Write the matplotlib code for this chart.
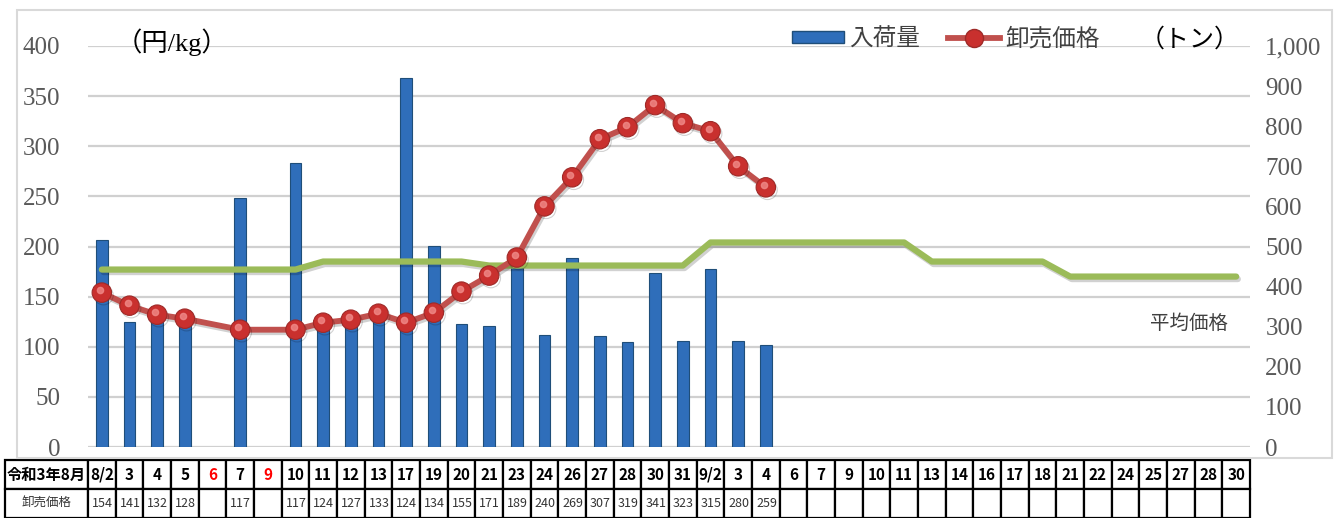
"""
Wholesale price / arrival volume chart (Aug - Sep, Reiwa 3)
Bars = arrivals (tons, right axis), red line = wholesale price (yen/kg, left axis),
green line = average price. Table of dates/prices below the chart.
"""

import numpy as np
import matplotlib.pyplot as plt
import matplotlib.patheffects as pe
from matplotlib.lines import Line2D
from matplotlib.patches import Patch, Rectangle

# ============================================================================
# DATA
# ============================================================================

DATES = ['8/2', '3', '4', '5', '6', '7', '9', '10', '11', '12', '13', '17', '19',
         '20', '21', '23', '24', '26', '27', '28', '30', '31', '9/2', '3', '4',
         '6', '7', '9', '10', '11', '13', '14', '16', '17', '18', '21', '22',
         '24', '25', '27', '28', '30']

# market holidays (red in the table)
HOLIDAY = [False] * 42
HOLIDAY[4] = True
HOLIDAY[6] = True

# wholesale price, yen/kg (None = no trading / not yet)
PRICES = [154, 141, 132, 128, None, 117, None, 117, 124, 127, 133, 124, 134,
          155, 171, 189, 240, 269, 307, 319, 341, 323, 315, 280, 259] + [None] * 17

# arrivals, tons
VOLUMES = [515, 311, 320, 315, None, 620, None, 708, 315, 315, 325, 920, 502,
           306, 302, 465, 280, 472, 277, 261, 435, 264, 443, 264, 254] + [None] * 17

# average price, yen/kg
AVG_PRICE = [177] * 8 + [185] * 6 + [181] * 8 + [204] * 8 + [185] * 5 + [170] * 7

HEAD_LABEL = '令和3年8月'
ROW_LABEL = '卸売価格'

# ============================================================================
# STYLE
# ============================================================================

W, H = 1340, 518
SERIF = ['Liberation Serif', 'Noto Sans CJK JP']
CJK = ['Noto Sans CJK JP', 'DejaVu Sans']
NARROW = ['Liberation Sans Narrow', 'Noto Sans CJK JP']

BAR_COLOR = '#2F6EBA'
BAR_EDGE = '#1F4E79'
PRICE_COLOR = '#C0504D'
MARKER_COLOR = '#C9302E'
AVG_COLOR = '#9BBB59'
GRID_COLOR = '#D0D0D0'
TICK_COLOR = '#595959'


def px(x0, y0, x1, y1):
    """pixel box (top-left origin) -> figure fraction rect"""
    return [x0 / W, 1 - y1 / H, (x1 - x0) / W, (y1 - y0) / H]


fig = plt.figure(figsize=(W / 100, H / 100), dpi=100)
fig.patch.set_facecolor('white')

# chart border
fig.patches.append(Rectangle((17 / W, 1 - 458 / H), 1315 / W, 448 / H,
                             transform=fig.transFigure, fill=False,
                             edgecolor='#D9D9D9', linewidth=1.5))

x = np.arange(len(DATES))
prices = np.array([np.nan if v is None else v for v in PRICES], dtype=float)
volumes = np.array([np.nan if v is None else v for v in VOLUMES], dtype=float)

# ─────────────────────────────────────────────────────────────────────────
# price axis (left) - carries the grid
# ─────────────────────────────────────────────────────────────────────────
ax = fig.add_axes(px(88, 46, 1250, 447))
ax.set_xlim(-0.5, len(DATES) - 0.5)
ax.set_ylim(0, 400)
ax.set_yticks(np.arange(0, 401, 50))
ax.set_xticks([])
for s in ax.spines.values():
    s.set_visible(False)

# ─────────────────────────────────────────────────────────────────────────
# volume axis (right) - bars
# ─────────────────────────────────────────────────────────────────────────
ax2 = ax.twinx()
ax2.patch.set_visible(False)
ax2.set_ylim(0, 1000)
ax2.set_yticks(np.arange(0, 1001, 100))
ax2.set_yticklabels([f'{v:,}' for v in range(0, 1001, 100)])
ax2.tick_params(axis='y', length=0, pad=11, labelcolor=TICK_COLOR, labelsize=18)
for lab in ax2.get_yticklabels():
    lab.set_family(SERIF)
for s in ax2.spines.values():
    s.set_visible(False)
ax2.bar(x, volumes, width=0.42, color=BAR_COLOR, edgecolor=BAR_EDGE,
        linewidth=0.8, zorder=2)

# left tick labels + grid (after twinx)
ax.tick_params(axis='y', length=0, pad=20, labelcolor=TICK_COLOR, labelsize=18)
for lab in ax.get_yticklabels():
    lab.set_family(SERIF)
ax.yaxis.grid(True, color=GRID_COLOR, linewidth=1.6)

# ─────────────────────────────────────────────────────────────────────────
# lines on top (same price scale as left axis)
# ─────────────────────────────────────────────────────────────────────────
ax3 = ax.twinx()
ax3.set_ylim(ax.get_ylim())
ax3.axis('off')

shadow = [pe.SimpleLineShadow(offset=(1.2, -1.8), alpha=0.18), pe.Normal()]
ax3.plot(x, AVG_PRICE, color=AVG_COLOR, linewidth=4.5,
         solid_capstyle='round', path_effects=shadow)

ok = ~np.isnan(prices)
ax3.plot(x[ok], prices[ok], color=PRICE_COLOR, linewidth=4.2,
         marker='o', markersize=14, markerfacecolor=MARKER_COLOR,
         markeredgecolor='#9E2A28', markeredgewidth=0.8, path_effects=shadow)
# highlight on the spheres
ax3.plot(x[ok] - 0.07, prices[ok] + 2.5, linestyle='none', marker='o',
         markersize=4.5, color='#F08A88', alpha=0.8)

# ─────────────────────────────────────────────────────────────────────────
# labels and legend
# ─────────────────────────────────────────────────────────────────────────
fig.text(116 / W, 1 - 42 / H, '（円/kg）', family=SERIF, fontsize=19,
         color='black', ha='left', va='center')
fig.text(1190 / W, 1 - 40 / H, '（トン）', family=CJK, fontsize=18,
         color='black', ha='center', va='center')
fig.text(1228 / W, 1 - 323 / H, '平均価格', family=CJK, fontsize=14,
         color='#404040', ha='right', va='center')

handles = [Patch(facecolor=BAR_COLOR, edgecolor=BAR_EDGE),
           Line2D([], [], color=PRICE_COLOR, linewidth=4.2, marker='o',
                  markersize=13, markerfacecolor=MARKER_COLOR,
                  markeredgecolor='#9E2A28')]
leg = fig.legend(handles, ['入荷量', '卸売価格'], loc='center',
                 bbox_to_anchor=(946 / W, 1 - 39 / H), ncol=2, frameon=False,
                 prop={'family': CJK, 'size': 17}, handlelength=2.2,
                 handleheight=0.4, handletextpad=0.2, columnspacing=1.2,
                 labelcolor='#404040')

# ─────────────────────────────────────────────────────────────────────────
# table under the chart
# ─────────────────────────────────────────────────────────────────────────
tax = fig.add_axes(px(5, 460, 1250, 518))
tax.axis('off')
price_cells = ['' if p is None else str(p) for p in PRICES]
cells = [[HEAD_LABEL] + DATES, [ROW_LABEL] + price_cells]
col_w = np.array([83] + [(1245 - 83) / len(DATES)] * len(DATES))
tbl = tax.table(cellText=cells, colWidths=list(col_w / col_w.sum()),
                bbox=[0, 0, 1, 1], cellLoc='center')
tbl.auto_set_font_size(False)
for (r, c), cell in tbl.get_celld().items():
    cell.set_linewidth(1.6)
    cell.set_edgecolor('black')
    t = cell.get_text()
    t.set_family(NARROW)
    if r == 0:
        t.set_fontweight('bold')
        t.set_fontsize(11)
        if c > 0 and HOLIDAY[c - 1]:
            t.set_color('red')
    else:
        t.set_fontsize(9)
        t.set_color('#333333')
        if c > 0:
            t.set_horizontalalignment('right')

fig.savefig('out.png', dpi=100, facecolor='white')
